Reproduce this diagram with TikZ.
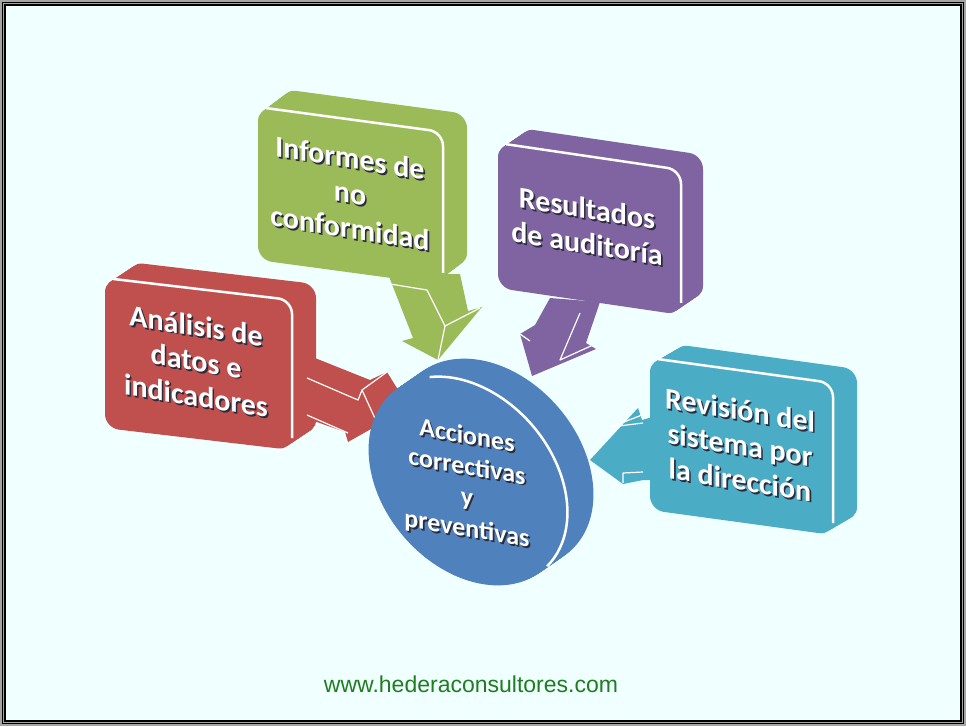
\documentclass[tikz,border=0pt]{standalone}
\usepackage{fontspec}
\setmainfont{Carlito}
\newfontfamily\webfont{Liberation Sans}
\definecolor{bgcyan}{RGB}{240,255,255}
\definecolor{framegray}{RGB}{165,165,165}
\definecolor{boxred}{RGB}{192,80,77}
\definecolor{boxgreen}{RGB}{155,187,89}
\definecolor{boxpurple}{RGB}{128,100,162}
\definecolor{boxcyan}{RGB}{75,172,198}
\definecolor{boxblue}{RGB}{79,129,189}
\definecolor{txtshadow}{RGB}{42,44,62}
\definecolor{webgreen}{RGB}{30,125,30}
\newcommand\shadowed[1]{\makebox[0pt][l]{\kern1.6pt\raisebox{-1.6pt}{\color{txtshadow}\begin{tabular}{@{}c@{}}#1\end{tabular}}}\begin{tabular}{@{}c@{}}#1\end{tabular}}
\tikzset{
  boxtext/.style={text=white, inner sep=0pt, yslant=-0.16, font=\bfseries\fontsize{30}{35}\selectfont},
  disktext/.style={text=white, inner sep=0pt, yslant=-0.17, font=\bfseries\fontsize{26}{31}\selectfont},
  fold/.style={white, line width=1.2pt, line join=round},
  rim/.style={white, line width=2.5pt},
}
\begin{document}
\begin{tikzpicture}[x=1pt, y=1pt]
    \useasboundingbox (0,0) rectangle (966,-726);
    \fill[framegray] (0,0) rectangle (966,-726);
    \draw[black, line width=1pt] (2.5,-2.5) rectangle (963.5,-723.5);
    \fill[bgcyan, draw=black, line width=1.2pt] (5,-5) rectangle (961,-721);
    \foreach \col/\x/\y/\w/\h/\sl/\dx/\dy in {boxred/105/278/187/150/0.118/24/16, boxgreen/258/107/185/153/0.135/24/18, boxpurple/498/143/183/145/0.147/22/15, boxcyan/650/358/183/152/0.137/24/14}{
        \foreach \t in {0,...,20}
            \fill[\col, rounded corners=14pt, shift={(\x+\t*\dx/20,-\y+\t*\dy/20)}, yslant=-\sl] (0,0) rectangle (\w,-\h);
        \draw[rim, rounded corners=14pt, shift={(\x,-\y)}, yslant=-\sl] (8,0) -- (\w,0) -- (\w,-\h+12);
    }
    \fill[boxred] (300,-352) -- (370,-380) -- (387,-372) -- (400,-393) -- (378,-425) -- (348,-442) -- (345,-432) -- (300,-416) -- cycle;
    \draw[fold] (307,-378) -- (358,-400) -- (362,-390) -- (387,-372);
    \draw[fold] (362,-390) -- (378,-425);
    \draw[fold] (307,-415) -- (348,-433);
    \fill[boxgreen] (388,-274) -- (413,-338) -- (402,-341) -- (438,-360) -- (482,-307) -- (468,-311) -- (460,-274) -- cycle;
    \draw[fold] (390,-284) -- (427,-290) -- (445,-326) -- (480,-308);
    \draw[fold] (445,-326) -- (438,-360);
    \fill[boxpurple] (550,-298) -- (535,-325) -- (520,-334) -- (532,-376) -- (596,-349) -- (586,-343) -- (600,-302) -- cycle;
    \draw[fold] (580,-313) -- (560,-360) -- (593,-345);
    \draw[fold] (520,-334) -- (530,-341);
    \fill[boxcyan] (590,-460) -- (638,-408) -- (642,-420) -- (656,-416) -- (656,-480) -- (643,-480) -- (623,-484) -- cycle;
    \draw[fold] (643,-423) -- (611,-427) -- (642,-415);
    \draw[fold] (623,-483) -- (623,-473) -- (643,-472);
    \foreach \t in {0,...,20}
        \fill[boxblue, shift={(468+\t*1.3,-481+\t*0.9)}, cm={1,-0.09,-0.21,1,(0,0)}] (0,0) ellipse [x radius=97, y radius=104];
    \draw[rim, shift={(468,-481)}, cm={1,-0.09,-0.21,1,(0,0)}] (100:97 and 104) arc [start angle=100, end angle=-50, x radius=97, y radius=104];
    \node[boxtext] (analisis) at (196,-365) {\shadowed{Análisis de\\datos e\\indicadores}};
    \node[boxtext] (informes) at (350,-197) {\shadowed{Informes de\\no\\conformidad}};
    \node[boxtext] (resultados) at (587,-230) {\shadowed{Resultados\\de auditoría}};
    \node[boxtext] (revision) at (740,-449) {\shadowed{Revisión del\\sistema por\\la dirección}};
    \node[disktext] (acciones) at (467,-485) {\shadowed{Acciones\\correctivas\\y\\preventivas}};
    \node[text=webgreen, font=\webfont\fontsize{23}{28}\selectfont] (web) at (471,-684) {www.hederaconsultores.com};
\end{tikzpicture}
\end{document}
